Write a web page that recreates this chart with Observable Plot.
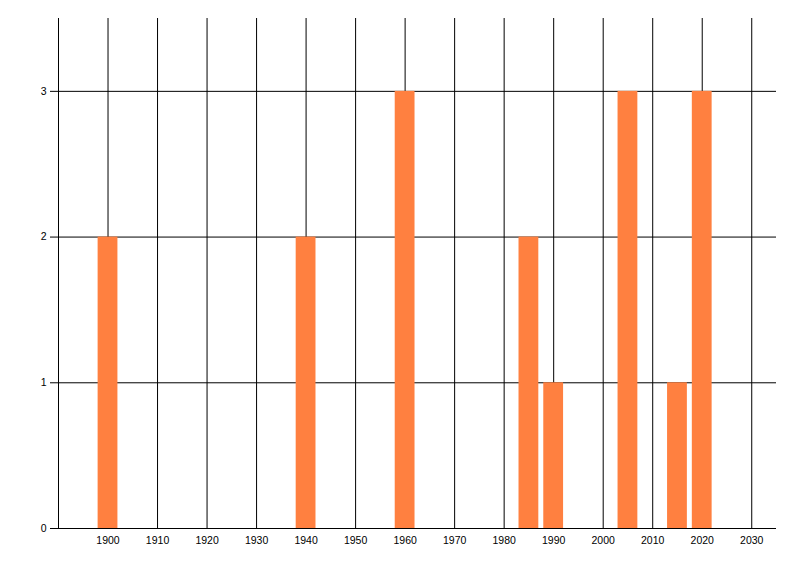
<!DOCTYPE html>
<html>
<head>
<meta charset="utf-8">
<script src="https://cdn.jsdelivr.net/npm/d3@7"></script>
<script src="https://cdn.jsdelivr.net/npm/@observablehq/plot@0.6"></script>
<style>
  html, body { margin: 0; padding: 0; background: #fff; }
  #chart svg { display: block; }
</style>
</head>
<body>
<div id="chart"></div>
<script>
const years = [1900, 1940, 1960, 1985, 1990, 2005, 2015, 2020];
const counts = [2, 2, 3, 2, 1, 3, 1, 3];
const xTicks = [1900, 1910, 1920, 1930, 1940, 1950, 1960, 1970, 1980, 1990, 2000, 2010, 2020, 2030];
const yTicks = [0, 1, 2, 3];

const data = years.map((y, i) => ({year: y, count: counts[i]}));
const half = 2;
const xDomain = [1890, 2035];
const yDomain = [0, 3.5];

const chart = Plot.plot({
  width: 800,
  height: 576,
  marginLeft: 58,
  marginRight: 24,
  marginTop: 18,
  marginBottom: 48,
  style: {fontFamily: "'Liberation Sans', Arial, sans-serif", fontSize: "10.5px", color: "#000", background: "#fff"},
  x: {domain: xDomain, ticks: xTicks, tickFormat: d => String(d)},
  y: {domain: yDomain, ticks: yTicks},
  marks: [
    Plot.ruleX(xTicks, {y1: yDomain[0], y2: yDomain[1], stroke: "#000", strokeWidth: 1}),
    Plot.ruleX([xDomain[0]], {y1: yDomain[0], y2: yDomain[1], stroke: "#000", strokeWidth: 1}),
    Plot.ruleY(yTicks, {x1: xDomain[0], x2: xDomain[1], stroke: "#000", strokeWidth: 1}),
    Plot.rectY(data, {x1: d => d.year - half, x2: d => d.year + half, y: "count", fill: "#ff8040"}),
    Plot.ruleY([0], {x1: xDomain[0], x2: xDomain[1], stroke: "#000", strokeWidth: 1}),
    Plot.axisX({ticks: xTicks, tickSize: 0, tickPadding: 8, tickFormat: d => String(d), label: null}),
    Plot.axisY({ticks: yTicks, tickSize: 8, tickPadding: 4, tickFormat: d => String(d), stroke: "#000", strokeOpacity: 1, label: null})
  ]
});
document.getElementById("chart").appendChild(chart);
</script>
</body>
</html>
